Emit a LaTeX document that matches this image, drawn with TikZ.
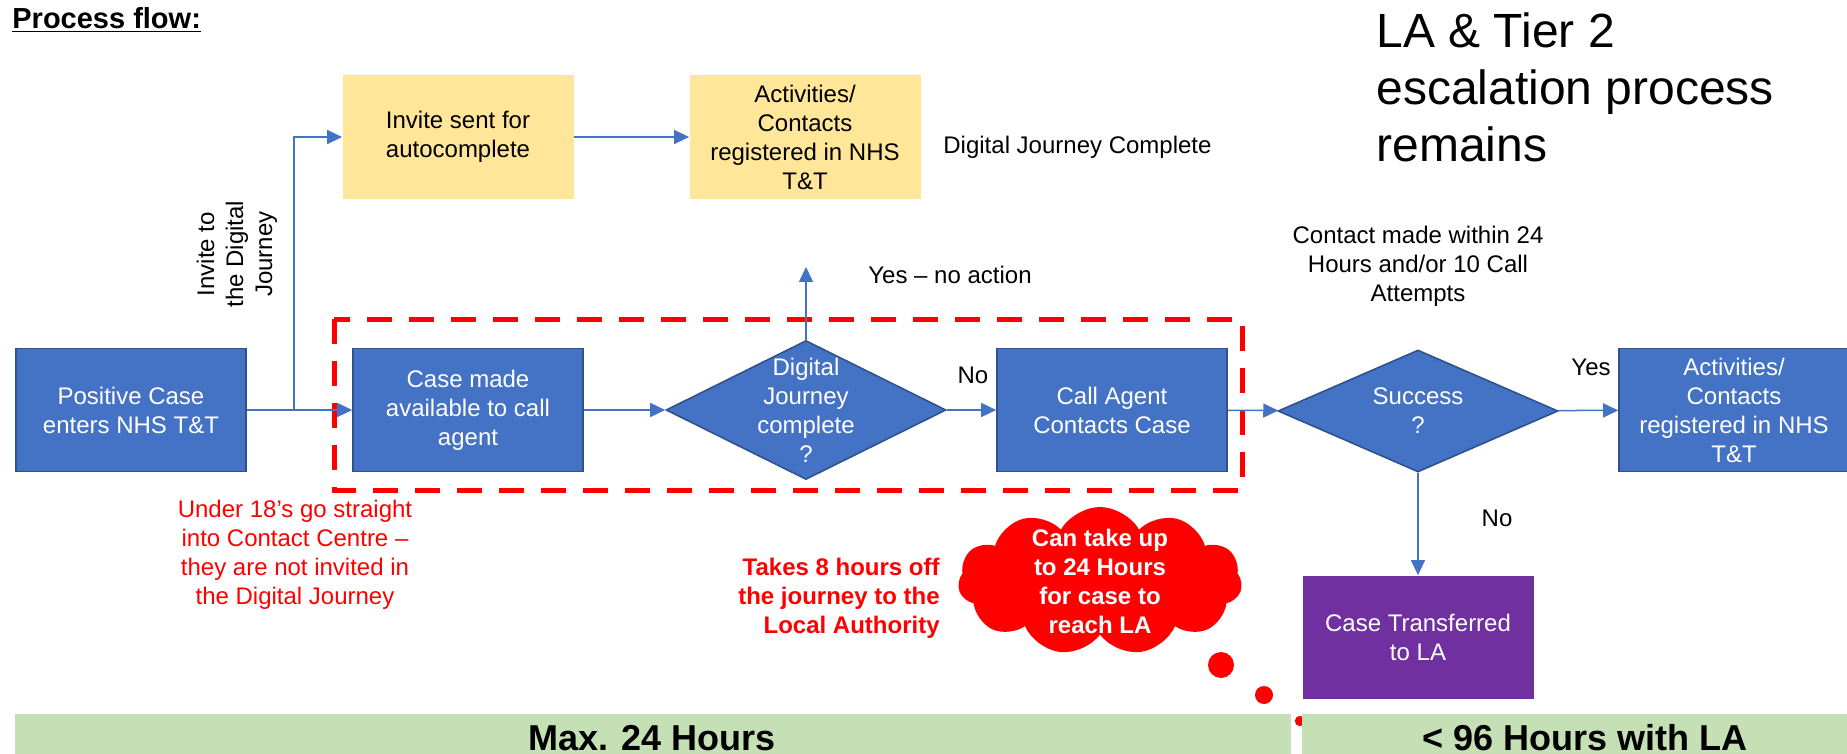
\documentclass[tikz,border=0pt]{standalone}
\usepackage{fontspec}
\setmainfont{Liberation Sans}
\usetikzlibrary{arrows.meta, positioning, shapes.geometric, shapes.symbols}
\definecolor{nhsblue}{HTML}{4472C4}
\definecolor{nhsedge}{HTML}{2F528F}
\definecolor{paleyellow}{HTML}{FFE699}
\definecolor{lapurple}{HTML}{7030A0}
\definecolor{palegreen}{HTML}{C5E0B4}

\begin{document}
\begin{tikzpicture}[x=0.5pt, y=-0.5pt,
  every node/.style={font=\fontsize{12}{14.5}\selectfont, align=center},
  bluebox/.style={rectangle, fill=nhsblue, draw=nhsedge, line width=0.8pt, text=white,
    minimum width=115pt, minimum height=61.5pt, inner sep=2pt},
  yellowbox/.style={rectangle, fill=paleyellow, minimum width=115.5pt, minimum height=62pt, inner sep=2pt},
  labox/.style={rectangle, fill=lapurple, text=white, minimum width=115.5pt, minimum height=61.5pt, inner sep=2pt},
  decision/.style={diamond, fill=nhsblue, draw=nhsedge, line width=0.8pt, minimum width=140pt, inner sep=0pt},
  decitext/.style={text=white, align=center},
  flow/.style={draw=nhsblue, line width=0.75pt, -{Triangle[length=7.5pt,width=7pt]}},
  focusbox/.style={draw=red, line width=2.5pt, dash pattern=on 12.5pt off 8.5pt},
  redtext/.style={text=red},
  bartext/.style={font=\bfseries\fontsize{18}{20}\selectfont, inner sep=0pt}]

\useasboundingbox (0,0) rectangle (1847,754);

% headings
\node[anchor=north west, inner sep=0pt, font=\bfseries\fontsize{14.5}{17}\selectfont] (title) at (12,7) {\underline{Process flow:}};
\node[anchor=north west, align=left, inner sep=0pt, font=\fontsize{24}{28.5}\selectfont] (esc) at (1376,12)
  {LA \& Tier 2\\escalation process\\remains};

% digital journey
\node[yellowbox] (inv) at (458,137) {Invite sent for\\autocomplete};
\node[yellowbox] (regd) at (805,137) {Activities/\\Contacts\\registered in NHS\\T\&T};
\node[anchor=west, inner sep=0pt] (djc) at (943,147) {Digital Journey Complete};
\node[rotate=90, inner sep=0pt] (invlbl) at (237,254) {Invite to\\the Digital\\Journey};

% main flow
\draw[focusbox] (334,319) rectangle (1242,490);
\node[bluebox] (pos) at (131,410) {Positive Case\\enters NHS T\&T};
\node[bluebox] (made) at (468,410) {Case made\\available to call\\agent};
\node[decision, minimum height=69.5pt, label={[decitext]center:{Digital\\Journey\\complete\\?}}] (djq) at (806,410) {};
\node[bluebox] (call) at (1112,410) {Call Agent\\Contacts Case};
\node[decision, minimum height=61pt, label={[decitext]center:{Success\\?}}] (succ) at (1418,411) {};
\node[bluebox] (regb) at (1734,410) {Activities/\\Contacts\\registered in NHS\\T\&T};
\node[labox] (la) at (1418,637) {Case Transferred\\to LA};

\coordinate (br) at (294,410);
\coordinate (upend) at (806,267);
\draw[flow] (pos) -- (made);
\draw[flow] (br) |- (inv);
\draw[flow] (inv) -- (regd);
\draw[flow] (made) -- (djq);
\draw[flow] (djq) -- (upend);
\draw[flow] (djq) -- (call);
\draw[flow] (call) -- (succ);
\draw[flow] (succ) -- (regb);
\draw[flow] (succ) -- (la);

% answers
\node[anchor=west, inner sep=0pt] (yna) at (868,275) {Yes -- no action};
\node[inner sep=0pt] (no1) at (973,375) {No};
\node[inner sep=0pt] (yes) at (1591,367) {Yes};
\node[inner sep=0pt] (no2) at (1497,518) {No};
\node[inner sep=0pt] (cond) at (1418,266) {Contact made within 24\\Hours and/or 10 Call\\Attempts};

% notes
\node[redtext, inner sep=0pt] (u18) at (295,555) {Under 18’s go straight\\into Contact Centre --\\they are not invited in\\the Digital Journey};
\node[redtext, anchor=east, align=right, inner sep=0pt, font=\bfseries\fontsize{12}{14.5}\selectfont] (eight) at (940,598)
  {Takes 8 hours off\\the journey to the\\Local Authority};
\node[cloud, cloud puffs=11, cloud puff arc=120, fill=red, minimum width=142pt, minimum height=74pt, inner sep=0pt,
  label={[text=white, font=\bfseries\fontsize{12}{14.5}\selectfont]center:{Can take up\\to 24 Hours\\for case to\\reach LA}}] (cloud) at (1100,581) {};
\fill[red] (1221,665) circle (6.5pt);
\fill[red] (1264,695) circle (4.5pt);
\fill[red] (1300,721) circle (2.6pt);

% time bars
\fill[palegreen] (15,714) rectangle (1291,760);
\fill[palegreen] (1302,714) rectangle (1850,760);
\node[bartext, anchor=base] (maxt) at (652,750) {Max. 24 Hours};
\node[bartext, anchor=base] (lat) at (1585,750) {< 96 Hours with LA};
\end{tikzpicture}
\end{document}
